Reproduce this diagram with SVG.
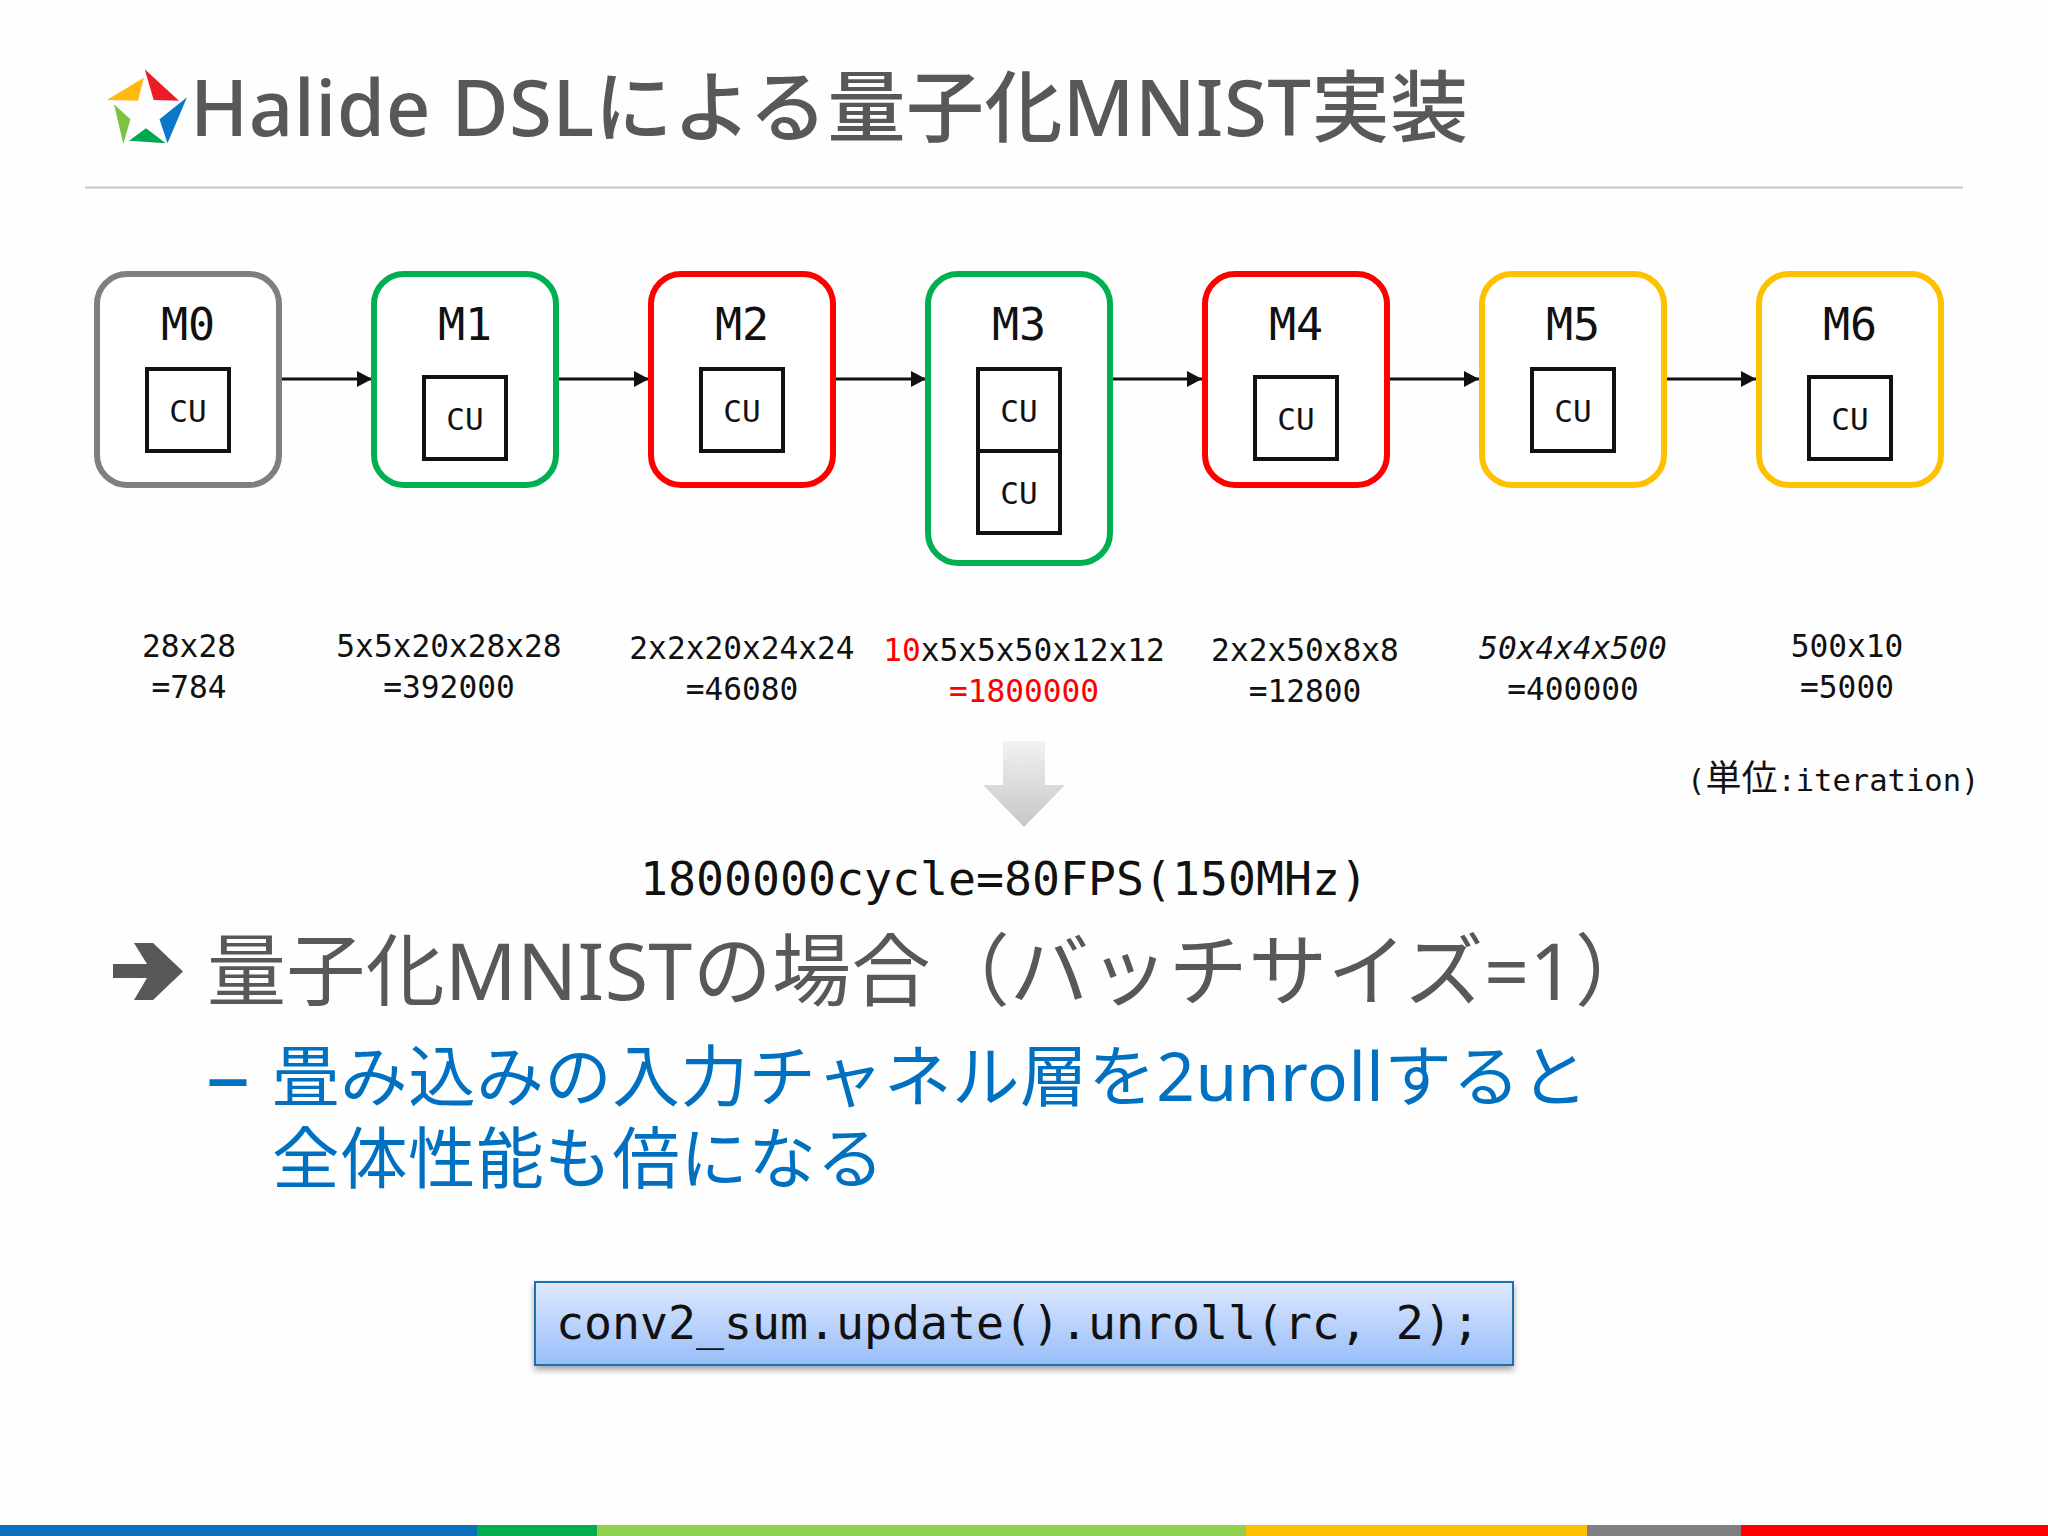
<svg xmlns="http://www.w3.org/2000/svg" width="2048" height="1536" viewBox="0 0 2048 1536">
<style>
text{font-family:"Noto Sans","Noto Sans CJK JP",sans-serif}
.m{font-family:"DejaVu Sans Mono","Noto Sans CJK JP",monospace;fill:#111}
.n{font-size:45px;text-anchor:middle}
.c{font-size:31px;text-anchor:middle}
.l{font-size:31.2px;text-anchor:middle}
.big{font-size:46.5px}
.red{fill:#f00}
.box{fill:#fff;stroke-width:6}
.cu{fill:#fff;stroke:#111;stroke-width:4}
.conn{stroke:#111;stroke-width:3;fill:none;marker-end:url(#ah)}
.gray{stroke:#7f7f7f}.green{stroke:#00b050}.redb{stroke:#f00}.yel{stroke:#ffc000}
</style>
<defs>
<marker id="ah" markerUnits="userSpaceOnUse" markerWidth="15" markerHeight="16" refX="15" refY="8" orient="auto"><path d="M0 0L15 8L0 16Z" fill="#111"/></marker>
<linearGradient id="dn" x1="0" y1="0" x2="0" y2="1"><stop offset="0" stop-color="#f2f2f3"/><stop offset="1" stop-color="#c6c6ca"/></linearGradient>
<linearGradient id="cb" x1="0" y1="0" x2="0" y2="1"><stop offset="0" stop-color="#dfe9fd"/><stop offset="1" stop-color="#98bdfa"/></linearGradient>
<filter id="sh" x="-5%" y="-20%" width="110%" height="150%"><feDropShadow dx="0" dy="4" stdDeviation="3" flood-color="#000" flood-opacity="0.35"/></filter>
</defs>
<rect width="2048" height="1536" fill="#fefefe"/>
<g id="logo">
<polygon points="144.7,69.3 179,100.7 153.7,100" fill="#ed1c24"/>
<polygon points="143.8,77.7 106.8,100 138,100.7" fill="#ffb90f"/>
<polygon points="187,97.3 159.5,119.3 167.5,143.3" fill="#0a78c8"/>
<polygon points="146,128.3 129,140.7 165.7,143.3" fill="#00a850"/>
<polygon points="114,104.3 130.4,119.3 123.3,144" fill="#7dc242"/>
</g>
<text id="title" x="190" y="136" font-size="78" font-weight="500" fill="#58585a" textLength="1278" lengthAdjust="spacing">Halide DSLによる量子化MNIST実装</text>
<line x1="85" y1="187.5" x2="1963" y2="187.5" stroke="#c8c8c8" stroke-width="2"/>
<g id="connectors">
<line class="conn" x1="282" y1="379" x2="372" y2="379"/>
<line class="conn" x1="559" y1="379" x2="649" y2="379"/>
<line class="conn" x1="836" y1="379" x2="926" y2="379"/>
<line class="conn" x1="1113" y1="379" x2="1202" y2="379"/>
<line class="conn" x1="1390" y1="379" x2="1479" y2="379"/>
<line class="conn" x1="1667" y1="379" x2="1756" y2="379"/>
</g>
<g id="M0"><rect class="box gray" x="97" y="274" width="182" height="211" rx="30"/><text class="m n" x="188" y="340">M0</text><rect class="cu" x="147" y="369" width="82" height="82"/><text class="m c" x="188" y="422">CU</text></g>
<g id="M1"><rect class="box green" x="374" y="274" width="182" height="211" rx="30"/><text class="m n" x="465" y="340">M1</text><rect class="cu" x="424" y="377" width="82" height="82"/><text class="m c" x="465" y="430">CU</text></g>
<g id="M2"><rect class="box redb" x="651" y="274" width="182" height="211" rx="30"/><text class="m n" x="742" y="340">M2</text><rect class="cu" x="701" y="369" width="82" height="82"/><text class="m c" x="742" y="422">CU</text></g>
<g id="M3"><rect class="box green" x="928" y="274" width="182" height="289" rx="30"/><text class="m n" x="1019" y="340">M3</text><rect class="cu" x="978" y="369" width="82" height="82"/><text class="m c" x="1019" y="422">CU</text><rect class="cu" x="978" y="451" width="82" height="82"/><text class="m c" x="1019" y="504">CU</text></g>
<g id="M4"><rect class="box redb" x="1205" y="274" width="182" height="211" rx="30"/><text class="m n" x="1296" y="340">M4</text><rect class="cu" x="1255" y="377" width="82" height="82"/><text class="m c" x="1296" y="430">CU</text></g>
<g id="M5"><rect class="box yel" x="1482" y="274" width="182" height="211" rx="30"/><text class="m n" x="1573" y="340">M5</text><rect class="cu" x="1532" y="369" width="82" height="82"/><text class="m c" x="1573" y="422">CU</text></g>
<g id="M6"><rect class="box yel" x="1759" y="274" width="182" height="211" rx="30"/><text class="m n" x="1850" y="340">M6</text><rect class="cu" x="1809" y="377" width="82" height="82"/><text class="m c" x="1850" y="430">CU</text></g>
<g id="labels">
<text class="m l" x="189" y="657">28x28</text><text class="m l" x="189" y="698">=784</text>
<text class="m l" x="449" y="657">5x5x20x28x28</text><text class="m l" x="449" y="698">=392000</text>
<text class="m l" x="742" y="659">2x2x20x24x24</text><text class="m l" x="742" y="700">=46080</text>
<text class="m l" x="1024" y="661"><tspan class="red">10</tspan>x5x5x50x12x12</text><text class="m l red" x="1024" y="702">=1800000</text>
<text class="m l" x="1305" y="661">2x2x50x8x8</text><text class="m l" x="1305" y="702">=12800</text>
<text class="m l" x="1573" y="659" font-style="italic">50x4x4x500</text><text class="m l" x="1573" y="700">=400000</text>
<text class="m l" x="1847" y="657">500x10</text><text class="m l" x="1847" y="698">=5000</text>
<text class="m" x="1687" y="791" font-size="30.5">(<tspan font-size="36">単位</tspan>:iteration)</text>
</g>
<polygon id="down" points="1003,741 1045,741 1045,785 1065,785 1024,827 983,785 1003,785" fill="url(#dn)"/>
<text class="m big" x="640" y="895">1800000cycle=80FPS(150MHz)</text>
<polygon id="bullet" points="113,964 147,964 134,943 153,943 183,971.5 153,1000 134,1000 147,978 113,978" fill="#58585a"/>
<text x="207" y="1000" font-size="79" fill="#58585a" textLength="1447" lengthAdjust="spacing">量子化MNISTの場合（バッチサイズ=1）</text>
<text x="206" y="1106" font-size="88" fill="#0070c0">–</text>
<text x="272" y="1101" font-size="67.5" fill="#0070c0" textLength="1316" lengthAdjust="spacing">畳み込みの入力チャネル層を2unrollすると</text>
<text x="272" y="1183" font-size="67.5" fill="#0070c0" textLength="612" lengthAdjust="spacing">全体性能も倍になる</text>
<g id="code"><rect x="535" y="1282" width="978" height="83" fill="url(#cb)" stroke="#1b6fb5" stroke-width="2" filter="url(#sh)"/><text class="m big" x="556" y="1339">conv2_sum.update().unroll(rc, 2);</text></g>
<g id="bar">
<rect x="0" y="1525" width="477" height="11" fill="#0a6ebd"/>
<rect x="477" y="1525" width="120" height="11" fill="#00b050"/>
<rect x="597" y="1525" width="649" height="11" fill="#92d050"/>
<rect x="1246" y="1525" width="341" height="11" fill="#ffc000"/>
<rect x="1587" y="1525" width="154" height="11" fill="#7f7f7f"/>
<rect x="1741" y="1525" width="307" height="11" fill="#f00"/>
</g>
</svg>
